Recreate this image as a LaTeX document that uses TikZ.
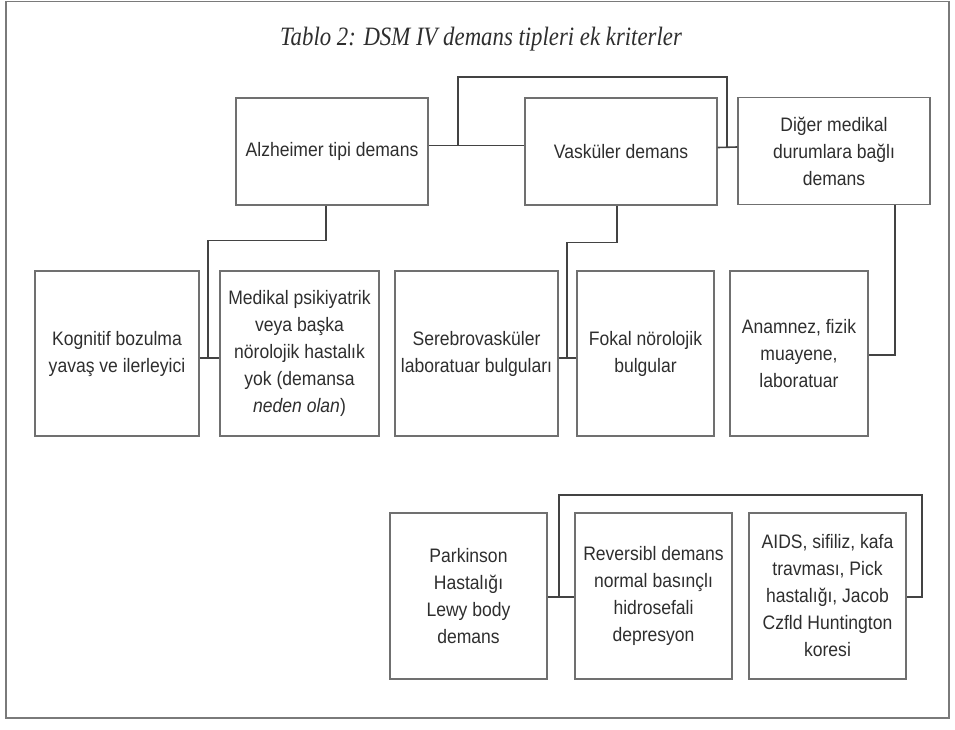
\documentclass[tikz,border=0pt]{standalone}
\usepackage{fontspec}
\setmainfont[FakeStretch=0.9]{Liberation Sans}
\newfontfamily\titlefont[FakeStretch=0.86]{Liberation Serif}
\definecolor{ink}{HTML}{2E2E2E}
\definecolor{boxgray}{HTML}{707070}
\definecolor{linegray}{HTML}{434343}
\definecolor{framegray}{HTML}{7A7A7A}

\begin{document}
\begin{tikzpicture}[x=1pt,y=-1pt,
  box/.style={draw=boxgray,line width=1.1pt,align=center,text=ink,inner sep=0pt,
    font=\fontsize{19.5}{27}\selectfont},
  topbox/.style={box,minimum width=192pt,minimum height=107pt},
  link/.style={draw=linegray,line width=1.6pt}]
\useasboundingbox (0,0) rectangle (955,729);
\draw[framegray,line width=1.2pt] (6,1.5) rectangle (949,718);
\node[text=ink,font=\titlefont\itshape\fontsize{26.5}{30}\selectfont] (title) at (481,39) {Tablo 2: DSM IV demans tipleri ek kriterler};

\node[topbox] (alz) at (332,151.5) {Alzheimer tipi demans};
\node[topbox] (vask) at (621,151.5) {Vasküler demans};
\node[topbox] (diger) at (834,151) {Diğer medikal\\durumlara bağlı\\demans};

\node[box,minimum width=164pt,minimum height=165pt] (kog) at (117,353.5) {Kognitif bozulma\\yavaş ve ilerleyici};
\node[box,minimum width=159pt,minimum height=165pt] (med) at (299.5,353.5) {Medikal psikiyatrik\\veya başka\\nörolojik hastalık\\yok (demansa\\\textit{neden olan})};
\node[box,minimum width=163pt,minimum height=165pt] (sereb) at (476.5,353.5) {Serebrovasküler\\laboratuar bulguları};
\node[box,minimum width=137pt,minimum height=165pt] (fokal) at (645.5,353.5) {Fokal nörolojik\\bulgular};
\node[box,minimum width=138pt,minimum height=165pt] (anam) at (799,353.5) {Anamnez, fizik\\muayene,\\laboratuar};

\node[box,minimum width=157pt,minimum height=166pt] (park) at (468.5,596) {Parkinson\\Hastalığı\\Lewy body\\demans};
\node[box,minimum width=157pt,minimum height=166pt] (rev) at (653.5,596) {Reversibl demans\\normal basınçlı\\hidrosefali\\depresyon};
\node[box,minimum width=157pt,minimum height=166pt] (aids) at (827.5,596) {AIDS, sifiliz, kafa\\travması, Pick\\hastalığı, Jacob\\Czfld Huntington\\koresi};

\coordinate (ta) at (458,145.5);
\coordinate (tc) at (727,147);
\coordinate (jk) at (208,358);
\coordinate (js) at (567,358);
\coordinate (jd) at (895,355);
\coordinate (jp) at (559,597);
\coordinate (jq) at (922,597);

\draw[link] ([yshift=6pt]alz.east) -- ([yshift=6pt]vask.west);
\draw[link] ([yshift=4pt]vask.east) -- ([yshift=4pt]diger.west);
\draw[link] (ta) -- ++(0,-68.5) -| (tc);
\draw[link] ([xshift=-6pt]alz.south) -- ++(0,35) -| (jk);
\draw[link] (kog.east |- jk) -- (med.west |- jk);
\draw[link] ([xshift=-4pt]vask.south) -- ++(0,37) -| (js);
\draw[link] (sereb.east |- js) -- (fokal.west |- js);
\draw[link] (diger.south -| jd) -- (jd) -- (anam.east |- jd);
\draw[link] (park.east |- jp) -- (rev.west |- jp);
\draw[link] (jp) -- ++(0,-102) -| (jq) -- (aids.east |- jq);
\end{tikzpicture}
\end{document}
